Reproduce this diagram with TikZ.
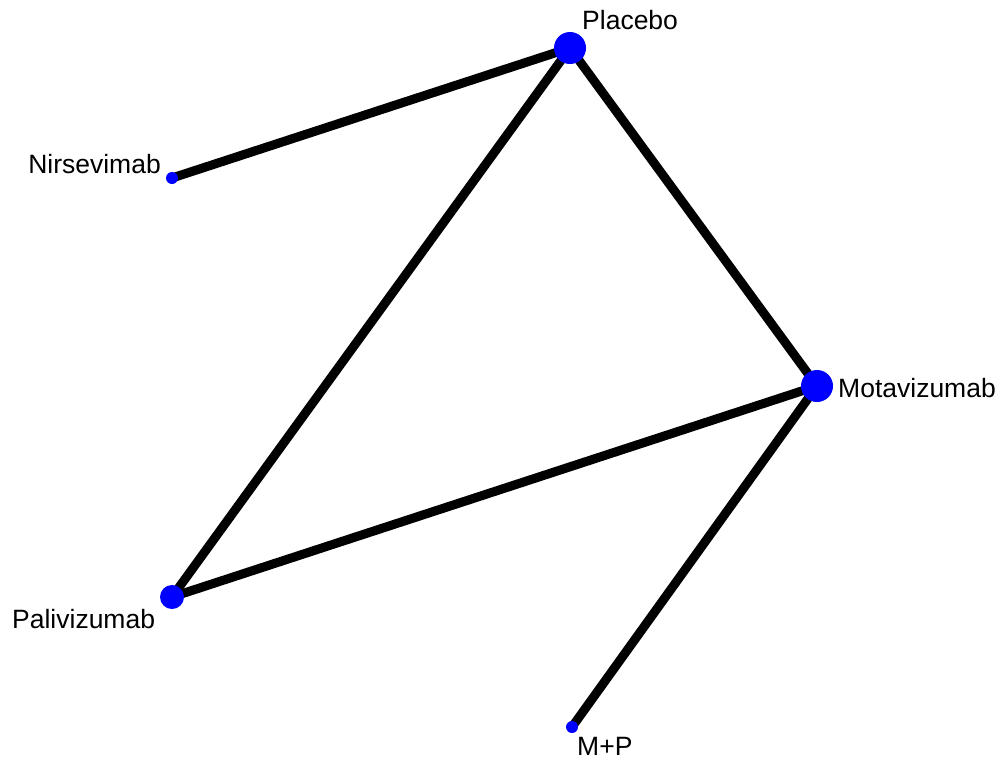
\documentclass[tikz,border=0pt]{standalone}
\usepackage{fontspec}
\setmainfont{Liberation Sans}
\usetikzlibrary{backgrounds}
\begin{document}
\begin{tikzpicture}[x=1pt,y=-1pt,
  edge/.style={line width=9pt,black},
  vertex/.style={circle,fill=blue,draw=none,inner sep=0pt},
  lbl/.style={inner sep=0pt,font=\fontsize{26.5}{31}\selectfont}]
\useasboundingbox (0,0) rectangle (1006,769);
% treatment vertices
\node[vertex,minimum size=32pt] (pla) at (570,48) {};
\node[vertex,minimum size=12pt] (nir) at (172,178) {};
\node[vertex,minimum size=32pt] (mot) at (817,386) {};
\node[vertex,minimum size=24pt] (pal) at (172,597) {};
\node[vertex,minimum size=12pt] (mp)  at (572,727) {};
% comparisons, drawn beneath the vertices
\begin{scope}[on background layer]
\draw[edge] (nir.center) -- (pla.center);
\draw[edge] (pal.center) -- (pla.center);
\draw[edge] (pla.center) -- (mot.center);
\draw[edge] (pal.center) -- (mot.center);
\draw[edge] (mp.center) -- (mot.center);
\end{scope}
% labels
\node[lbl,anchor=base west] (tpla) at (582,29) {Placebo};
\node[lbl,anchor=base east] (tnir) at (161,173) {Nirsevimab};
\node[lbl,anchor=base west] (tmot) at (838,397) {Motavizumab};
\node[lbl,anchor=base west] (tpal) at (12,628) {Palivizumab};
\node[lbl,anchor=base west] (tmp)  at (577,755) {M+P};
\end{tikzpicture}
\end{document}
